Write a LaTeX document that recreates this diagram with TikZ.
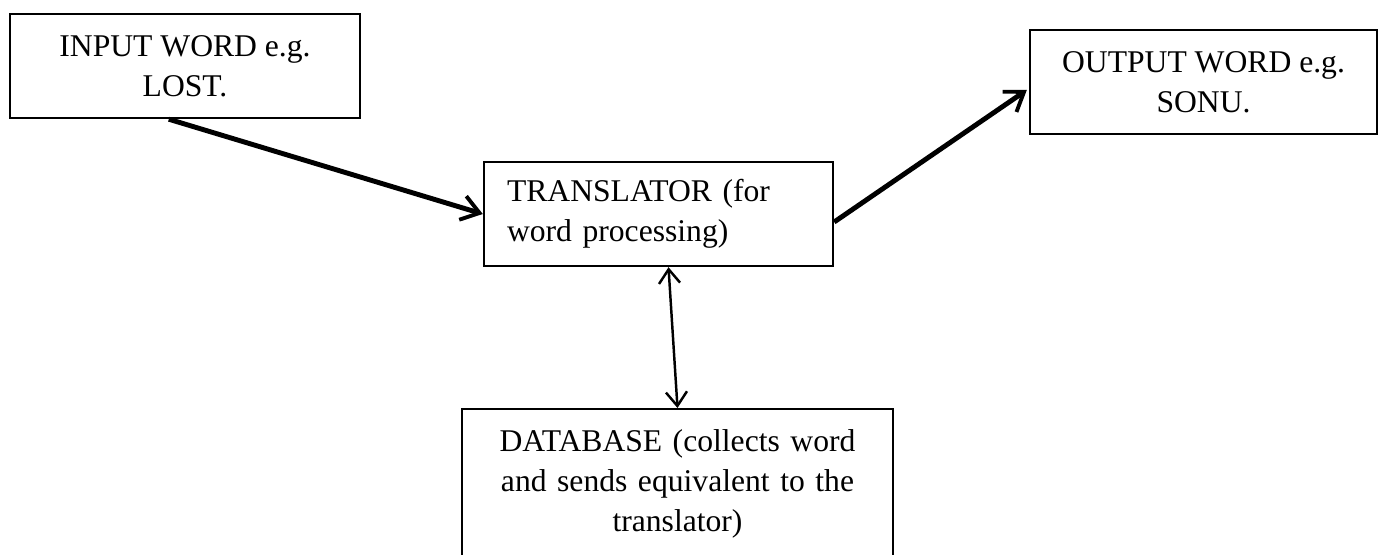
\documentclass[tikz,border=0pt]{standalone}
\usepackage{fontspec}
\setmainfont{Liberation Serif}
\usetikzlibrary{arrows.meta,positioning,calc}

\begin{document}
\begin{tikzpicture}[x=0.02cm,y=0.02cm,
	box/.style={draw,line width=1.4pt,inner sep=0pt,font=\fontsize{18}{23}\selectfont},
	flow/.style={line width=2.8pt,-{Straight Barb[length=10pt,width=14pt,line width=2.2pt]}},
	link/.style={line width=1.4pt,{Straight Barb[length=8pt,width=12pt]}-{Straight Barb[length=8pt,width=12pt]}}]
\clip (0,0) rectangle (1385,554);
\node[box,minimum width=7cm,minimum height=2.08cm,align=center] (input) at (185,488) {INPUT WORD e.g.\\LOST.};
\node[box,minimum height=2.08cm,inner xsep=0.46cm,text width=6.06cm,align=left] (translator) at (658.5,340) {TRANSLATOR (for\\word processing)};
\node[box,minimum width=6.94cm,minimum height=2.08cm,align=center] (output) at (1203.5,472) {OUTPUT WORD e.g.\\SONU.};
\node[box,anchor=north,inner xsep=0.3cm,inner ysep=0.4cm,text width=8.02cm,align=center,text depth=3cm] (database) at (677.5,146) {DATABASE (collects word\\and sends equivalent to the\\translator)};

\draw[flow] ($(input.south west)+(160,0)$) -- (translator.west);
\draw[flow] ($(translator.east)+(0,-8)$) -- ($(output.west)+(-2,-8)$);
\draw[link] ($(translator.south)+(10,0)$) -- (database.north);
\end{tikzpicture}
\end{document}
